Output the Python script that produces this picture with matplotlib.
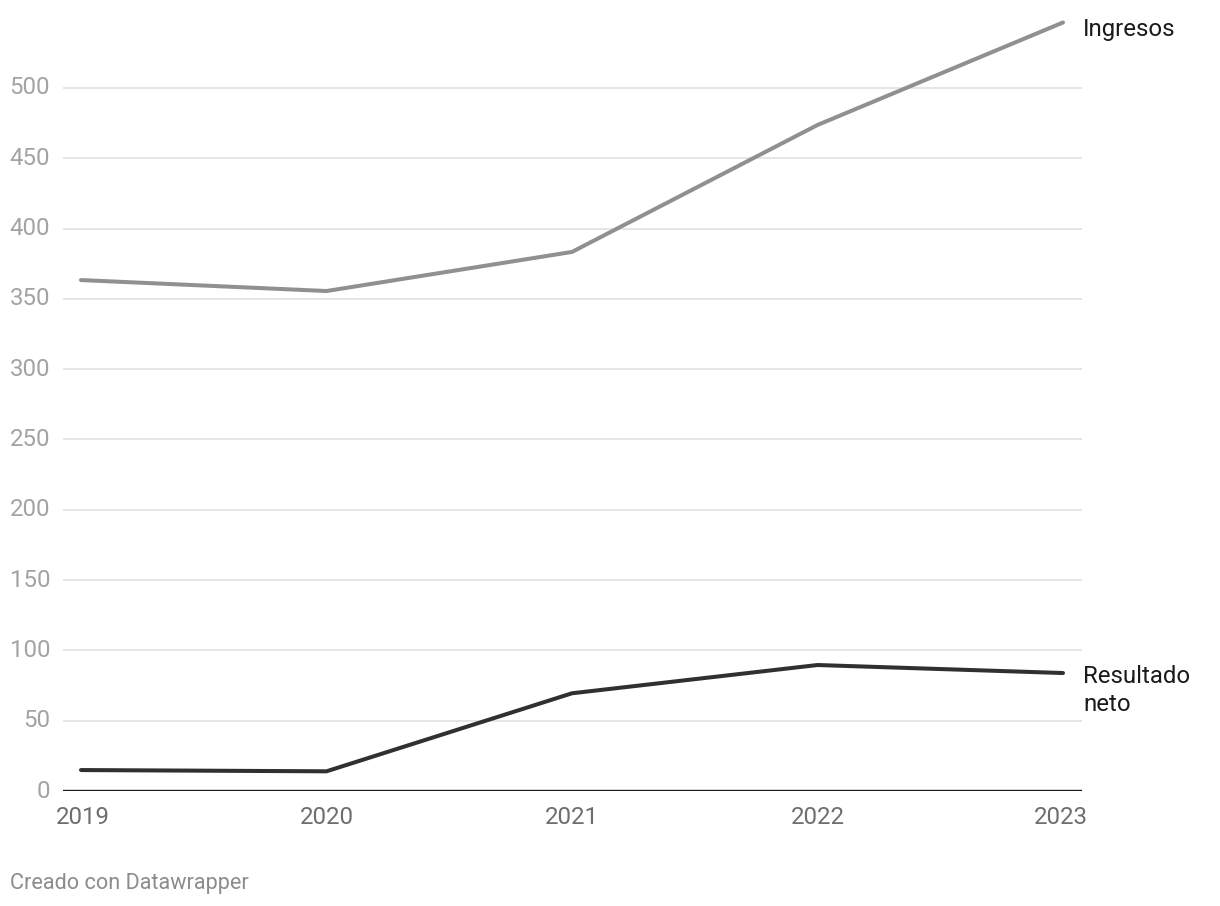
import matplotlib
matplotlib.use('Agg')
import matplotlib.pyplot as plt

plt.rcParams['font.family'] = ['Roboto', 'DejaVu Sans']

years = [2019, 2020, 2021, 2022, 2023]
ingresos = [363.4, 355.6, 383.4, 473.7, 546.6]
resultado_neto = [14.9, 14.0, 69.5, 89.6, 83.9]
y_ticks = [0, 50, 100, 150, 200, 250, 300, 350, 400, 450, 500]

W, H = 1220, 906
fig = plt.figure(figsize=(W / 100, H / 100), dpi=100)
# axes in pixel terms: left 63, right 1082, bottom (zero line) 790, top 10
ax = fig.add_axes([63 / W, 1 - 791 / H, (1082 - 63) / W, (791 - 10) / H])
ax.set_xlim(2019 - 18 / 245.5, 2023 + 19 / 245.5)
ax.set_ylim(0, 781 / 1.406)

for s in ax.spines.values():
    s.set_visible(False)

for t in y_ticks[1:]:
    ax.axhline(t, color='#e5e5e5', lw=1.4, zorder=1)
ax.axhline(0, color='#1a1a1a', lw=1.7, zorder=3)

ax.plot(years, ingresos, color='#909090', lw=2.9, solid_capstyle='round',
        solid_joinstyle='round', zorder=4)
ax.plot(years, resultado_neto, color='#303030', lw=2.9, solid_capstyle='round',
        solid_joinstyle='round', zorder=4)

ax.set_xticks([])
ax.set_yticks([])

# y tick labels, right-aligned at x=50px
for t in y_ticks:
    ax.annotate(str(t), xy=(0, t), xycoords=('axes fraction', 'data'),
                xytext=(-13, 0), textcoords='offset pixels',
                ha='right', va='center', fontsize=17.3, color='#a3a3a3')

# x tick labels
for i, yr in enumerate(years):
    ha = 'center'
    dx = 0
    if i == 0:
        ha, dx = 'left', -25
    elif i == len(years) - 1:
        ha, dx = 'right', 25
    ax.annotate(str(yr), xy=(yr, 0), xycoords='data',
                xytext=(dx, -27), textcoords='offset pixels',
                ha=ha, va='center', fontsize=17.3, color='#6e6e6e')

# series labels
ax.annotate('Ingresos', xy=(years[-1], ingresos[-1]), xytext=(20, -7),
            textcoords='offset pixels', ha='left', va='center',
            fontsize=17.3, color='#1a1a1a', annotation_clip=False)
ax.annotate('Resultado\nneto', xy=(years[-1], resultado_neto[-1]), xytext=(20, 8),
            textcoords='offset pixels', ha='left', va='top', linespacing=1.3,
            fontsize=17.3, color='#1a1a1a', annotation_clip=False)

fig.text(10 / W, 1 - 883 / H, 'Creado con Datawrapper', ha='left', va='center',
         fontsize=15.6, color='#8c8c8c')

fig.savefig('out.png', dpi=100, facecolor='white')
